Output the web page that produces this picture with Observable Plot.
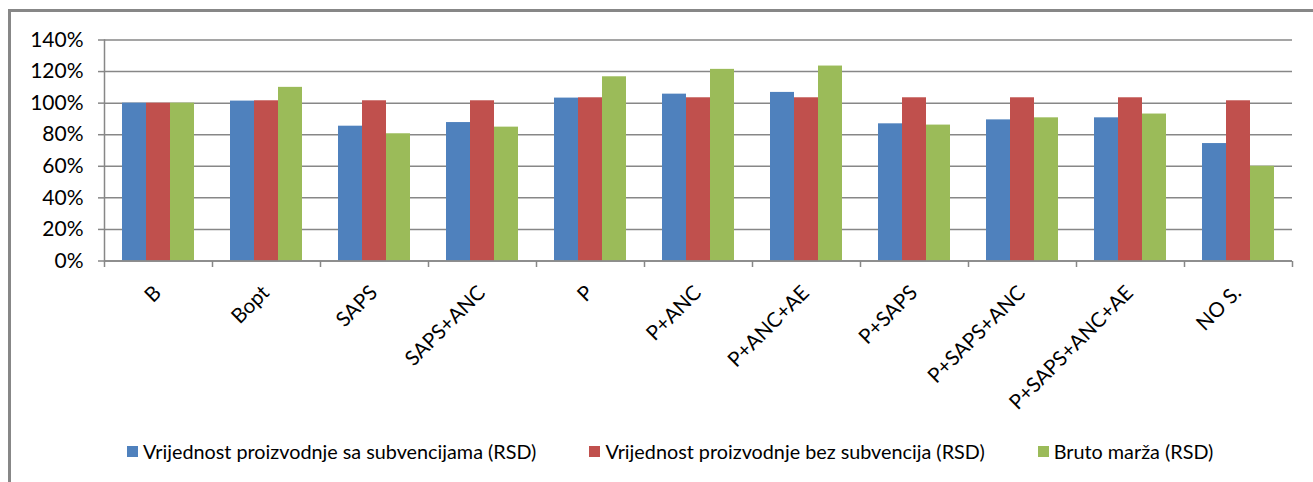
<!DOCTYPE html>
<html>
<head>
<meta charset="utf-8">
<script src="https://cdn.jsdelivr.net/npm/d3@7"></script>
<script src="https://cdn.jsdelivr.net/npm/@observablehq/plot@0.6"></script>
<style>
  html, body { margin: 0; padding: 0; background: #fff; overflow: hidden; width: 1313px; height: 482px; }
  #border { position: absolute; left: 8px; top: 9px; width: 1400px; height: 600px; border: 3px solid #878787; box-sizing: border-box; }
  #chart { position: absolute; left: 0; top: 0; }
  #legend { position: absolute; left: 127px; top: 439px; height: 24px; display: flex; align-items: center;
            font-family: Lato, sans-serif; font-size: 19.8px; color: #000; white-space: nowrap; }
  .item { display: flex; align-items: center; margin-right: 53px; }
  .swatch { width: 11px; height: 11px; margin-right: 5px; }
</style>
</head>
<body>
<div id="border"></div>
<div id="chart"></div>
<div id="legend"></div>
<script>
// ---- data ----
const categories = ["B", "Bopt", "SAPS", "SAPS+ANC", "P", "P+ANC", "P+ANC+AE", "P+SAPS", "P+SAPS+ANC", "P+SAPS+ANC+AE", "NO S."];
const seriesNames = [
  "Vrijednost proizvodnje sa subvencijama (RSD)",
  "Vrijednost proizvodnje bez subvencija (RSD)",
  "Bruto marža (RSD)"
];
const withSubsidies    = [100, 101.3, 85.4, 87.7, 103.2, 105.7, 106.8, 86.9, 89.4, 90.7, 74.4];
const withoutSubsidies = [100, 101.5, 101.5, 101.5, 103.4, 103.4, 103.4, 103.4, 103.4, 103.4, 101.5];
const grossMargin      = [100, 110, 80.6, 84.8, 116.7, 121.4, 123.5, 86.1, 90.7, 93.1, 60];
const yTicks = [0, 20, 40, 60, 80, 100, 120, 140];
const colors = ["#4f81bd", "#c0504d", "#9bbb59"];

const seriesValues = [withSubsidies, withoutSubsidies, grossMargin];
const rows = [];
categories.forEach((c, i) => {
  seriesNames.forEach((s, j) => rows.push({category: c, series: s, value: seriesValues[j][i]}));
});

const gray = "#878787";
const tickMark = { draw(context) { context.moveTo(0, 0); context.lineTo(0, 6); } };

const chart = Plot.plot({
  width: 1313,
  height: 420,
  marginLeft: 102,
  marginRight: 19,
  marginTop: 39.5,
  marginBottom: 159.5,
  style: { fontFamily: "Lato, sans-serif", fontSize: "21px", color: "#000", background: "transparent" },
  fx: { domain: categories, padding: 0, axis: null, label: null },
  x: { domain: seriesNames, paddingInner: 0, paddingOuter: 0.75, axis: null, label: null },
  y: { domain: [0, 140], axis: null, label: null },
  color: { domain: seriesNames, range: colors },
  marks: [
    Plot.gridY(yTicks, { stroke: gray, strokeOpacity: 1, strokeWidth: 1.5 }),
    Plot.barY(rows, { fx: "category", x: "series", y: "value", fill: "series" }),
    Plot.ruleY([0], { stroke: gray, strokeWidth: 1.5 }),
    Plot.frame({ anchor: "left", fx: categories[0], stroke: gray, strokeWidth: 1.5 }),
    Plot.axisY(yTicks, { anchor: "left", label: null, tickSize: 6, tickPadding: 15, tickFormat: d => d + "%",
                         stroke: gray, strokeWidth: 1.5, fontSize: 21, fill: "#000" }),
    Plot.dot(categories, { fx: d => d, frameAnchor: "bottom-left", symbol: tickMark, r: 3,
                           stroke: gray, strokeWidth: 1.5, fill: "none" }),
    Plot.dot([categories[categories.length - 1]], { fx: d => d, frameAnchor: "bottom-right", symbol: tickMark, r: 3,
                           stroke: gray, strokeWidth: 1.5, fill: "none" }),
    Plot.text(categories, { fx: d => d, text: d => d, frameAnchor: "bottom", rotate: -45,
                            textAnchor: "end", lineAnchor: "bottom", dx: 4, dy: 33, fontSize: 20.5, fill: "#000" })
  ]
});
document.getElementById("chart").appendChild(chart);

const legend = document.getElementById("legend");
seriesNames.forEach((s, i) => {
  const item = document.createElement("div");
  item.className = "item";
  const sw = document.createElement("div");
  sw.className = "swatch";
  sw.style.background = colors[i];
  const label = document.createElement("span");
  label.textContent = s;
  item.appendChild(sw);
  item.appendChild(label);
  legend.appendChild(item);
});
</script>
</body>
</html>
